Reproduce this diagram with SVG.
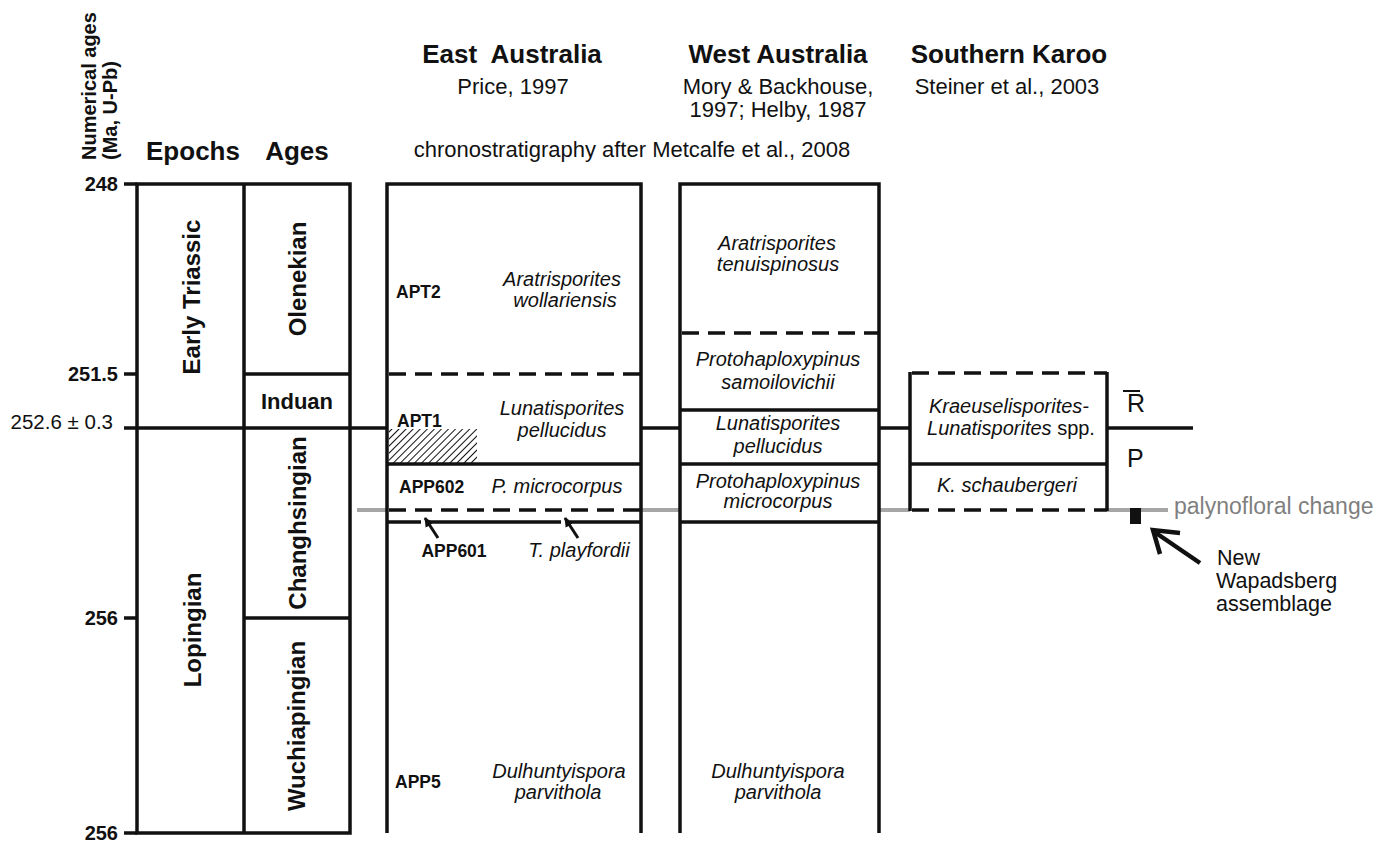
<svg xmlns="http://www.w3.org/2000/svg" width="1376" height="843" viewBox="0 0 1376 843">
<defs>
<style>
text{font-family:"Liberation Sans",Arial,sans-serif;fill:#111}
.b{font-weight:bold}
.i{font-style:italic;font-size:20px}
.h{font-weight:bold;font-size:26px}
.r{font-size:22px}
.m{text-anchor:middle}
.e{text-anchor:end}
.rot{font-weight:bold;font-size:24px;text-anchor:middle}
.lbl{font-weight:bold;font-size:17.5px}
.tk{font-weight:bold;font-size:20px;text-anchor:end}
.ln{stroke:#111;stroke-width:3.5;fill:none}
.ds{stroke:#111;stroke-width:3.5;fill:none;stroke-dasharray:17 9}
.gr{stroke:#a6a6a6;stroke-width:4;fill:none}
.nw{font-size:21.5px}
</style>
<pattern id="hatch" patternUnits="userSpaceOnUse" width="5" height="5" patternTransform="rotate(45)">
<line x1="0" y1="0" x2="0" y2="5" stroke="#111" stroke-width="2"/>
</pattern>
<marker id="ah" viewBox="0 0 10 10" refX="9" refY="5" markerWidth="3.2" markerHeight="3.2" orient="auto">
<path d="M0,0 L10,5 L0,10 z" fill="#111"/>
</marker>
</defs>
<rect width="1376" height="843" fill="#fff"/>

<g id="headers">
<text class="b" font-size="20" transform="translate(96,160) rotate(-90)">Numerical ages</text>
<text class="b" font-size="20" transform="translate(117,160) rotate(-90)">(Ma, U-Pb)</text>
<text class="b m" font-size="26" x="193" y="160">Epochs</text>
<text class="b m" font-size="26" x="297" y="160">Ages</text>
<text class="h m" x="512" y="63" xml:space="preserve">East  Australia</text>
<text class="r m" x="513" y="94">Price, 1997</text>
<text class="h m" x="778" y="63">West Australia</text>
<text class="r m" x="778" y="94">Mory &amp; Backhouse,</text>
<text class="r m" x="778" y="117">1997; Helby, 1987</text>
<text class="h m" x="1009" y="63">Southern Karoo</text>
<text class="r m" x="1007" y="94">Steiner et al., 2003</text>
<text class="r m" x="632" y="157">chronostratigraphy after Metcalfe et al., 2008</text>
</g>

<g id="age-scale">
<line class="ln" x1="124" y1="184" x2="137" y2="184"/>
<line class="ln" x1="124" y1="374" x2="137" y2="374"/>
<line class="ln" x1="124" y1="618" x2="137" y2="618"/>
<line class="ln" x1="124" y1="833" x2="137" y2="833"/>
<text class="tk" x="118" y="191">248</text>
<text class="tk" x="118" y="381">251.5</text>
<text class="e" font-size="20.5" x="113" y="429">252.6 ± 0.3</text>
<text class="tk" x="118" y="625">256</text>
<text class="tk" x="118" y="840">256</text>
</g>

<g id="epochs-ages">
<rect class="ln" x="137" y="184" width="213" height="649"/>
<line class="ln" x1="244" y1="184" x2="244" y2="833"/>
<line class="ln" x1="244" y1="374" x2="350" y2="374"/>
<line class="ln" x1="244" y1="618" x2="350" y2="618"/>
<text class="rot" transform="translate(200,297) rotate(-90)">Early Triassic</text>
<text class="rot" transform="translate(201,630) rotate(-90)">Lopingian</text>
<text class="rot" transform="translate(306,279) rotate(-90)">Olenekian</text>
<text class="b m" font-size="22" x="297" y="409">Induan</text>
<text class="rot" transform="translate(306,523) rotate(-90)">Changhsingian</text>
<text class="rot" transform="translate(305,726) rotate(-90)">Wuchiapingian</text>
</g>

<g id="connectors">
<line class="ln" x1="124" y1="428" x2="387" y2="428"/>
<line class="ln" x1="641" y1="428" x2="680" y2="428"/>
<line class="ln" x1="879" y1="428" x2="910" y2="428"/>
<line class="ln" x1="1107" y1="428" x2="1193" y2="428"/>
<line class="gr" x1="357" y1="510" x2="387" y2="510"/>
<line class="gr" x1="641" y1="510" x2="680" y2="510"/>
<line class="gr" x1="879" y1="510" x2="910" y2="510"/>
<line class="gr" x1="1107" y1="510" x2="1168" y2="510"/>
</g>

<g id="east-australia">
<polyline class="ln" points="387,833 387,184 641,184 641,833"/>
<line class="ds" x1="389" y1="374" x2="641" y2="374"/>
<rect x="389" y="429" width="88" height="34" fill="url(#hatch)"/>
<line class="ln" x1="387" y1="464" x2="641" y2="464"/>
<line class="ds" x1="389" y1="510" x2="641" y2="510"/>
<line class="ln" x1="387" y1="522" x2="421" y2="522"/>
<line class="ln" x1="429" y1="522" x2="561" y2="522"/>
<line class="ln" x1="570" y1="522" x2="641" y2="522"/>
<line stroke="#111" stroke-width="3" x1="438" y1="538" x2="425" y2="518" marker-end="url(#ah)"/>
<line stroke="#111" stroke-width="3" x1="578" y1="538" x2="565" y2="518" marker-end="url(#ah)"/>
<text class="lbl" x="396" y="298">APT2</text>
<text class="i m" x="562" y="286">Aratrisporites</text>
<text class="i m" x="565" y="307">wollariensis</text>
<text class="lbl" x="397" y="427">APT1</text>
<text class="i m" x="562" y="415">Lunatisporites</text>
<text class="i m" x="562" y="437">pellucidus</text>
<text class="lbl" x="399" y="493">APP602</text>
<text class="i m" x="557" y="493">P. microcorpus</text>
<text class="lbl m" x="454" y="557">APP601</text>
<text class="i m" x="579" y="557">T. playfordii</text>
<text class="lbl" x="395" y="788">APP5</text>
<text class="i m" x="559" y="778">Dulhuntyispora</text>
<text class="i m" x="558" y="799">parvithola</text>
</g>

<g id="west-australia">
<polyline class="ln" points="680,833 680,184 879,184 879,833"/>
<line class="ds" x1="682" y1="333" x2="879" y2="333"/>
<line class="ln" x1="680" y1="410" x2="879" y2="410"/>
<line class="ln" x1="680" y1="464" x2="879" y2="464"/>
<line class="ln" x1="680" y1="522" x2="879" y2="522"/>
<text class="i m" x="777" y="250">Aratrisporites</text>
<text class="i m" x="778" y="271">tenuispinosus</text>
<text class="i m" x="778" y="366">Protohaploxypinus</text>
<text class="i m" x="778" y="389">samoilovichii</text>
<text class="i m" x="778" y="430">Lunatisporites</text>
<text class="i m" x="778" y="453">pellucidus</text>
<text class="i m" x="778" y="488">Protohaploxypinus</text>
<text class="i m" x="778" y="508">microcorpus</text>
<text class="i m" x="778" y="778">Dulhuntyispora</text>
<text class="i m" x="778" y="799">parvithola</text>
</g>

<g id="southern-karoo">
<line class="ln" x1="910" y1="372" x2="910" y2="511"/>
<line class="ln" x1="1107" y1="372" x2="1107" y2="511"/>
<line class="ds" x1="912" y1="373" x2="1107" y2="373"/>
<line class="ln" x1="910" y1="464" x2="1107" y2="464"/>
<line class="ds" x1="912" y1="510" x2="1107" y2="510"/>
<text class="i m" x="1009" y="413">Kraeuselisporites-</text>
<text class="i m" x="1011" y="435">Lunatisporites <tspan font-style="normal">spp.</tspan></text>
<text class="i m" x="1007" y="492">K. schaubergeri</text>
</g>

<g id="period-symbols">
<line stroke="#111" stroke-width="2" x1="1123" y1="391" x2="1140" y2="391"/>
<text font-size="25" x="1127" y="412">R</text>
<text font-size="25" x="1127" y="467">P</text>
</g>

<g id="palynofloral-change">
<text font-size="23" x="1174" y="514" style="fill:#7f7f7f">palynofloral change</text>
</g>

<g id="wapadsberg">
<rect x="1130" y="508" width="11" height="16" fill="#111"/>
<line stroke="#111" stroke-width="4.5" x1="1200" y1="563" x2="1156" y2="533"/>
<polyline points="1180,533 1153,530 1160,554" fill="none" stroke="#111" stroke-width="4.5" stroke-linejoin="miter"/>
<text class="nw" x="1217" y="565">New</text>
<text class="nw" x="1216" y="588">Wapadsberg</text>
<text class="nw" x="1216" y="611">assemblage</text>
</g>
</svg>
